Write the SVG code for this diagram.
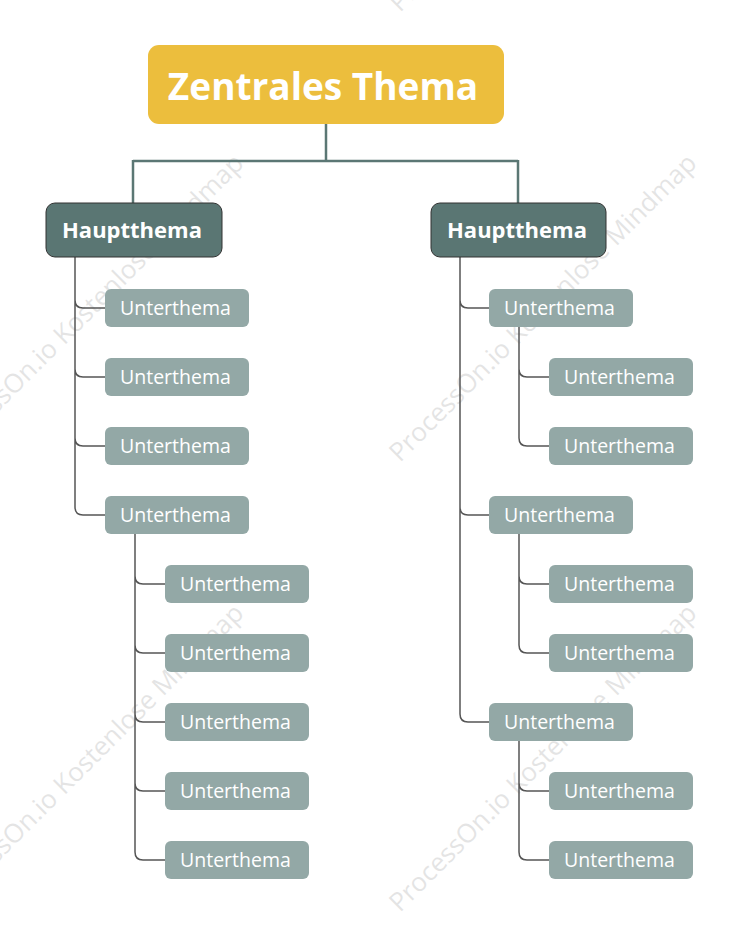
<svg xmlns="http://www.w3.org/2000/svg" width="739" height="939" viewBox="0 0 739 939">
<style>
.wm{font-family:"Open Sans","Noto Sans",sans-serif;font-size:26px;fill:#000;opacity:0.1}
.sub rect{fill:#93A8A6}
.sub text{font-family:"Open Sans","Noto Sans",sans-serif;font-size:19.5px;fill:#fff}
.main rect{fill:#5A7673;stroke:#333;stroke-width:1}
.main text{font-family:"Open Sans","Noto Sans",sans-serif;font-size:22px;font-weight:bold;fill:#fff;text-anchor:middle}
.c{fill:none;stroke:#555;stroke-width:1.5}
.ct{fill:none;stroke:#5B7774;stroke-width:2.5}
</style>
<rect width="739" height="939" fill="#fff"/>
<g id="watermarks">
<text class="wm" transform="translate(-53,463) rotate(-45)">ProcessOn.io Kostenlose Mindmap</text>
<text class="wm" transform="translate(400,463) rotate(-45)">ProcessOn.io Kostenlose Mindmap</text>
<text class="wm" transform="translate(-53,913) rotate(-45)">ProcessOn.io Kostenlose Mindmap</text>
<text class="wm" transform="translate(400,913) rotate(-45)">ProcessOn.io Kostenlose Mindmap</text>
<text class="wm" transform="translate(400,13) rotate(-45)">ProcessOn.io Kostenlose Mindmap</text>
</g>
<g id="connectors">
<path class="ct" d="M326,124 V161 M133,161 H518 M133,160 V203 M518,160 V203"/>
<path class="c" d="M75,257 V300 Q75,308 83,308 H105 M75,257 V369 Q75,377 83,377 H105 M75,257 V438 Q75,446 83,446 H105 M75,257 V507 Q75,515 83,515 H105"/>
<path class="c" d="M135,534 V576 Q135,584 143,584 H165 M135,534 V645 Q135,653 143,653 H165 M135,534 V714 Q135,722 143,722 H165 M135,534 V783 Q135,791 143,791 H165 M135,534 V852 Q135,860 143,860 H165"/>
<path class="c" d="M460,257 V300 Q460,308 468,308 H489 M460,257 V507 Q460,515 468,515 H489 M460,257 V714 Q460,722 468,722 H489"/>
<path class="c" d="M519,327 V369 Q519,377 527,377 H549 M519,327 V438 Q519,446 527,446 H549"/>
<path class="c" d="M519,534 V576 Q519,584 527,584 H549 M519,534 V645 Q519,653 527,653 H549"/>
<path class="c" d="M519,741 V783 Q519,791 527,791 H549 M519,741 V852 Q519,860 527,860 H549"/>
</g>
<g id="central">
<rect x="148" y="45" width="356" height="79" rx="11" fill="#ECBE3D"/>
<text x="323" y="100" font-family="'Open Sans','Noto Sans',sans-serif" font-size="37" font-weight="bold" fill="#fff" text-anchor="middle">Zentrales Thema</text>
</g>
<g id="main-left" class="main"><rect x="46" y="203" width="176" height="54" rx="9"/><text x="132" y="238">Hauptthema</text></g>
<g id="main-right" class="main"><rect x="431" y="203" width="175" height="54" rx="9"/><text x="517" y="238">Hauptthema</text></g>
<g id="l1" class="sub"><rect x="105" y="289" width="144" height="38" rx="6"/><text x="120" y="315">Unterthema</text></g>
<g id="l2" class="sub"><rect x="105" y="358" width="144" height="38" rx="6"/><text x="120" y="384">Unterthema</text></g>
<g id="l3" class="sub"><rect x="105" y="427" width="144" height="38" rx="6"/><text x="120" y="453">Unterthema</text></g>
<g id="l4" class="sub"><rect x="105" y="496" width="144" height="38" rx="6"/><text x="120" y="522">Unterthema</text></g>
<g id="l4a" class="sub"><rect x="165" y="565" width="144" height="38" rx="6"/><text x="180" y="591">Unterthema</text></g>
<g id="l4b" class="sub"><rect x="165" y="634" width="144" height="38" rx="6"/><text x="180" y="660">Unterthema</text></g>
<g id="l4c" class="sub"><rect x="165" y="703" width="144" height="38" rx="6"/><text x="180" y="729">Unterthema</text></g>
<g id="l4d" class="sub"><rect x="165" y="772" width="144" height="38" rx="6"/><text x="180" y="798">Unterthema</text></g>
<g id="l4e" class="sub"><rect x="165" y="841" width="144" height="38" rx="6"/><text x="180" y="867">Unterthema</text></g>
<g id="r1" class="sub"><rect x="489" y="289" width="144" height="38" rx="6"/><text x="504" y="315">Unterthema</text></g>
<g id="r1a" class="sub"><rect x="549" y="358" width="144" height="38" rx="6"/><text x="564" y="384">Unterthema</text></g>
<g id="r1b" class="sub"><rect x="549" y="427" width="144" height="38" rx="6"/><text x="564" y="453">Unterthema</text></g>
<g id="r2" class="sub"><rect x="489" y="496" width="144" height="38" rx="6"/><text x="504" y="522">Unterthema</text></g>
<g id="r2a" class="sub"><rect x="549" y="565" width="144" height="38" rx="6"/><text x="564" y="591">Unterthema</text></g>
<g id="r2b" class="sub"><rect x="549" y="634" width="144" height="38" rx="6"/><text x="564" y="660">Unterthema</text></g>
<g id="r3" class="sub"><rect x="489" y="703" width="144" height="38" rx="6"/><text x="504" y="729">Unterthema</text></g>
<g id="r3a" class="sub"><rect x="549" y="772" width="144" height="38" rx="6"/><text x="564" y="798">Unterthema</text></g>
<g id="r3b" class="sub"><rect x="549" y="841" width="144" height="38" rx="6"/><text x="564" y="867">Unterthema</text></g>
</svg>
